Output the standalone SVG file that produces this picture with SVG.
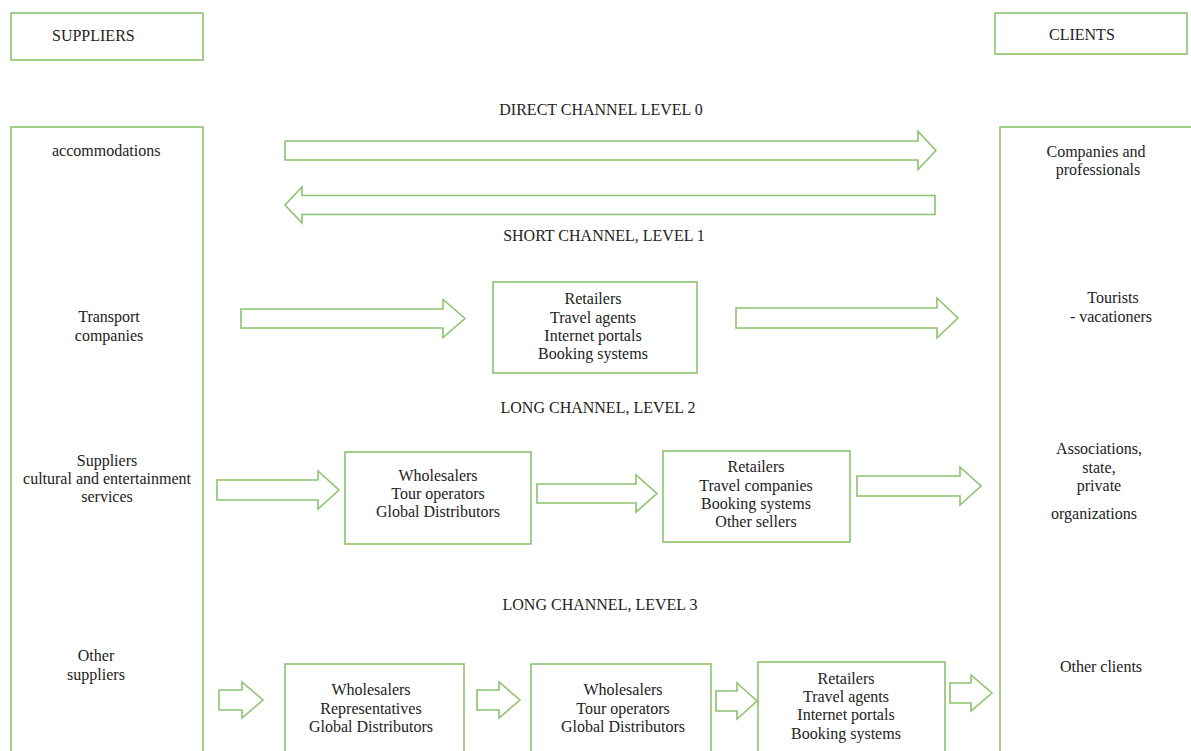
<svg xmlns="http://www.w3.org/2000/svg" width="1191" height="751" viewBox="0 0 1191 751" font-family="'Liberation Serif', 'Times New Roman', Tinos, 'DejaVu Serif', serif">
<style>
.box{fill:#fff;stroke:#8cc36f;stroke-width:1.6}
.arr{fill:#fff;stroke:#8cc36f;stroke-width:1.6;stroke-linejoin:miter}
text{font-family:'Liberation Serif','Times New Roman',Tinos,serif;font-size:16px;fill:#222;text-anchor:middle}
.l{text-anchor:start}
</style>
<rect width="1191" height="751" fill="#fff"/>
<g id="suppliers-header"><rect class="box" x="11" y="13" width="192" height="47"/><text class="l" x="52" y="41">SUPPLIERS</text></g>
<g id="clients-header"><rect class="box" x="995" y="13" width="192" height="41"/><text class="l" x="1049" y="40">CLIENTS</text></g>
<g id="suppliers"><rect class="box" x="11" y="127" width="192" height="640"/>
<text class="l" x="52" y="156">accommodations</text>
<text x="109" y="322">Transport</text><text x="109" y="341">companies</text>
<text x="107" y="466">Suppliers</text><text x="107" y="484">cultural and entertainment</text><text x="107" y="502">services</text>
<text x="96" y="661">Other</text><text x="96" y="680">suppliers</text>
</g>
<g id="clients"><rect class="box" x="1000" y="127" width="220" height="640"/>
<text x="1096" y="157">Companies and</text><text x="1098" y="175">professionals</text>
<text x="1113" y="303">Tourists</text><text x="1111" y="322">- vacationers</text>
<text x="1099" y="454">Associations,</text><text x="1099" y="473">state,</text><text x="1099" y="491">private</text><text x="1094" y="519">organizations</text>
<text x="1101" y="672">Other clients</text>
</g>
<g id="labels">
<text x="601" y="115">DIRECT CHANNEL LEVEL 0</text>
<text x="604" y="241">SHORT CHANNEL, LEVEL 1</text>
<text x="598" y="413">LONG CHANNEL, LEVEL 2</text>
<text x="600" y="610">LONG CHANNEL, LEVEL 3</text>
</g>
<g id="n-retailers1"><rect class="box" x="493" y="282" width="204" height="91"/>
<text x="593" y="304">Retailers</text><text x="593" y="323">Travel agents</text><text x="593" y="341">Internet portals</text><text x="593" y="359">Booking systems</text></g>
<g id="n-wholesalers2"><rect class="box" x="345" y="452" width="186" height="92"/>
<text x="438" y="481">Wholesalers</text><text x="438" y="499">Tour operators</text><text x="438" y="517">Global Distributors</text></g>
<g id="n-retailers2"><rect class="box" x="663" y="451" width="187" height="91"/>
<text x="756" y="472">Retailers</text><text x="756" y="491">Travel companies</text><text x="756" y="509">Booking systems</text><text x="756" y="527">Other sellers</text></g>
<g id="n-wholesalers3a"><rect class="box" x="285" y="664" width="179" height="110"/>
<text x="371" y="695">Wholesalers</text><text x="371" y="714">Representatives</text><text x="371" y="732">Global Distributors</text></g>
<g id="n-wholesalers3b"><rect class="box" x="531" y="664" width="180" height="110"/>
<text x="623" y="695">Wholesalers</text><text x="623" y="714">Tour operators</text><text x="623" y="732">Global Distributors</text></g>
<g id="n-retailers3"><rect class="box" x="758" y="662" width="187" height="110"/>
<text x="846" y="684">Retailers</text><text x="846" y="702">Travel agents</text><text x="846" y="720">Internet portals</text><text x="846" y="739">Booking systems</text></g>
<g id="connectors">
<polygon class="arr" points="285,141 918,141 918,131.5 936,150.5 918,169.5 918,160 285,160"/>
<polygon class="arr" points="935,195.5 302,195.5 302,187 285,205 302,223 302,214.5 935,214.5"/>
<polygon class="arr" points="241,309 443,309 443,299.5 465,318.5 443,337.5 443,328 241,328"/>
<polygon class="arr" points="736,308 937,308 937,298 958,318 937,338 937,328 736,328"/>
<polygon class="arr" points="217,480 318,480 318,471 339,490 318,509 318,500 217,500"/>
<polygon class="arr" points="537,484 636,484 636,475 657,493.5 636,512 636,503 537,503"/>
<polygon class="arr" points="857,476 960,476 960,467 981,486 960,505 960,496 857,496"/>
<polygon class="arr" points="219,690 242,690 242,682 263,700 242,718 242,710 219,710"/>
<polygon class="arr" points="477,690 499,690 499,682 520,700 499,718 499,710 477,710"/>
<polygon class="arr" points="716,691 737,691 737,683 757,701 737,719 737,711 716,711"/>
<polygon class="arr" points="950,683 971,683 971,675 992,693 971,711 971,703 950,703"/>
</g>
</svg>
